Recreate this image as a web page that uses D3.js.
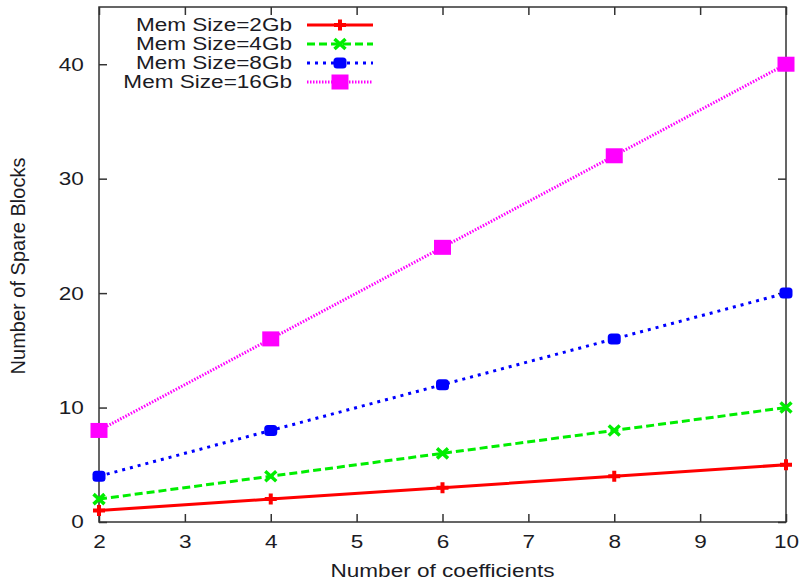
<!DOCTYPE html>
<html>
<head>
<meta charset="utf-8">
<script src="https://cdn.jsdelivr.net/npm/d3@7"></script>
<style>
  body { margin: 0; background: #fff; }
  text { font-family: "Liberation Sans", Arial, sans-serif; fill: #1b1b24; }
</style>
</head>
<body>
<div id="chart"></div>
<script>
const coefficients = [2, 4, 6, 8, 10];
const mem2 = [1, 2, 3, 4, 5];
const mem4 = [2, 4, 6, 8, 10];
const mem8 = [4, 8, 12, 16, 20];
const mem16 = [8, 16, 24, 32, 40];
const xTicks = [2, 3, 4, 5, 6, 7, 8, 9, 10];
const yTicks = [0, 10, 20, 30, 40];

const series = [
  { name: "Mem Size=2Gb", values: mem2, color: "#ff0000", dash: null, marker: "plus" },
  { name: "Mem Size=4Gb", values: mem4, color: "#00ee00", dash: "8,4", marker: "cross" },
  { name: "Mem Size=8Gb", values: mem8, color: "#0000ff", dash: "3,5", marker: "circle" },
  { name: "Mem Size=16Gb", values: mem16, color: "#ff00ff", dash: "1.5,1.5", marker: "square" }
];

const svgWidth = 804;
const svgHeight = 583;
const margin = { top: 7, right: 18, bottom: 61, left: 99 };
const width = svgWidth - margin.left - margin.right;
const height = svgHeight - margin.top - margin.bottom;
const sx = 1.22; // text in the picture is stretched sideways
const fontSize = "18.5px";

const svg = d3.select("#chart").append("svg")
  .attr("width", svgWidth)
  .attr("height", svgHeight);

const g = svg.append("g")
  .attr("transform", `translate(${margin.left},${margin.top})`);

const x = d3.scaleLinear().domain([2, 10]).range([0, width]);
const y = d3.scaleLinear().domain([0, 45]).range([height, 0]);

const axisStyle = (sel) => {
  sel.select(".domain").remove();
  sel.selectAll(".tick line").attr("stroke", "#333").attr("stroke-width", 1.5);
  sel.selectAll(".tick text")
    .attr("font-family", "Liberation Sans, Arial, sans-serif")
    .style("font-size", fontSize)
    .attr("transform", `scale(${sx},1)`);
};

g.append("g").attr("transform", `translate(0,${height})`)
  .call(d3.axisBottom(x).tickValues(xTicks).tickSize(-8).tickPadding(13).tickFormat(d3.format("d")))
  .call(axisStyle);
g.append("g")
  .call(d3.axisTop(x).tickValues(xTicks).tickSize(-8).tickFormat(""))
  .call(axisStyle);
g.append("g")
  .call(d3.axisLeft(y).tickValues(yTicks).tickSize(-8).tickPadding(12.5))
  .call(axisStyle);
g.append("g").attr("transform", `translate(${width},0)`)
  .call(d3.axisRight(y).tickValues(yTicks).tickSize(-8).tickFormat(""))
  .call(axisStyle);

g.append("rect")
  .attr("width", width).attr("height", height)
  .attr("fill", "none").attr("stroke", "#333").attr("stroke-width", 1.5);

const drawMarker = (sel, type, color, cx, cy) => {
  if (type === "plus") {
    sel.append("path").attr("d", `M${cx - 6},${cy}H${cx + 6}M${cx},${cy - 5.5}V${cy + 5.5}`)
      .attr("stroke", color).attr("stroke-width", 4);
  } else if (type === "cross") {
    sel.append("path").attr("d", `M${cx - 5.5},${cy - 5}L${cx + 5.5},${cy + 5}M${cx - 5.5},${cy + 5}L${cx + 5.5},${cy - 5}`)
      .attr("stroke", color).attr("stroke-width", 3.5);
  } else if (type === "circle") {
    sel.append("rect").attr("x", cx - 6.5).attr("y", cy - 5.5).attr("width", 13).attr("height", 11)
      .attr("rx", 3.5).attr("fill", color);
  } else {
    sel.append("rect").attr("x", cx - 8.5).attr("y", cy - 7.5).attr("width", 17).attr("height", 15)
      .attr("fill", color);
  }
};

const line = d3.line().x((d) => x(d[0])).y((d) => y(d[1]));

series.forEach((s) => {
  const pts = coefficients.map((c, i) => [c, s.values[i]]);
  g.append("path")
    .datum(pts)
    .attr("fill", "none")
    .attr("stroke", s.color)
    .attr("stroke-width", 3)
    .attr("stroke-dasharray", s.dash)
    .attr("d", line);
  const mg = g.append("g");
  pts.forEach((p) => drawMarker(mg, s.marker, s.color, x(p[0]), y(p[1])));
});

// legend
const legend = svg.append("g");
series.forEach((s, i) => {
  const ly = 25 + i * 19;
  legend.append("g")
    .attr("transform", `translate(292,${ly}) scale(${sx},1)`)
    .append("text")
    .attr("dy", "0.35em")
    .attr("text-anchor", "end")
    .style("font-size", fontSize)
    .text(s.name);
  legend.append("line")
    .attr("x1", 307).attr("x2", 373).attr("y1", ly).attr("y2", ly)
    .attr("stroke", s.color).attr("stroke-width", 3)
    .attr("stroke-dasharray", s.dash);
  drawMarker(legend, s.marker, s.color, 340, ly);
});

svg.append("g")
  .attr("transform", `translate(${margin.left + width / 2},577) scale(${sx},1)`)
  .append("text")
  .attr("text-anchor", "middle")
  .style("font-size", fontSize)
  .text("Number of coefficients");

svg.append("text")
  .attr("transform", `translate(25,266) rotate(-90)`)
  .attr("text-anchor", "middle")
  .style("font-size", "20px")
  .text("Number of Spare Blocks");
</script>
</body>
</html>
